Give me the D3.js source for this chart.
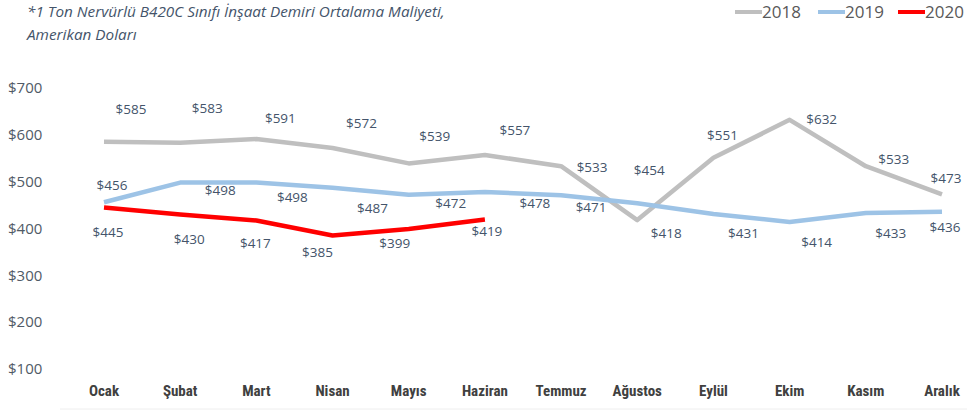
<!DOCTYPE html>
<html><head><meta charset="utf-8">
<script src="https://cdn.jsdelivr.net/npm/d3@7"></script>
<style>body{margin:0;background:#fff}svg{display:block}</style>
</head><body>
<svg id="c" width="967" height="411"></svg>
<script>
const months = ["Ocak","Şubat","Mart","Nisan","Mayıs","Haziran","Temmuz","Ağustos","Eylül","Ekim","Kasım","Aralık"];
const s2018 = [585,583,591,572,539,557,533,418,551,632,533,473];
const s2019 = [456,498,498,487,472,478,471,454,431,414,433,436];
const s2020 = [445,430,417,385,399,419];
const yTicks = [100,200,300,400,500,600,700];
const seriesNames = ["2018","2019","2020"];
const seriesColors = ["#BFBFBF","#9DC3E6","#FF0000"];
// label offsets relative to points (layout)
const off2018 = [[27,-33],[27,-35],[24,-21],[29,-25],[26,-27],[30,-25],[31,1],[29,13],[9,-23],[32,-1],[28,-7],[4,-16]];
const off2019 = [[8,-17],[40,8],[36,15],[40,21],[42,8],[50,11],[30,12],[12,-33],[30,19],[27,20],[25,20],[3,16]];
const off2020 = [[4,25],[9,25],[-1,23],[-15,17],[-14,14],[2,12]];

const svg = d3.select("#c");
const x = d3.scalePoint().domain(months).range([104,942]);
const y = d3.scaleLinear().domain([100,700]).range([369,88]);

// title
const t = svg.append("text").attr("font-family","'Open Sans',sans-serif")
  .attr("font-style","italic").attr("font-size",15.3).attr("fill","#44546A");
t.append("tspan").attr("x",27).attr("y",17).text("*1 Ton Nervürlü B420C Sınıfı İnşaat Demiri Ortalama Maliyeti,");
t.append("tspan").attr("x",27).attr("y",40).text("Amerikan Doları");

// y axis labels
svg.append("g").selectAll("text").data(yTicks).join("text")
  .attr("x",8).attr("y",d=>y(d)).attr("dy","0.35em")
  .attr("font-family","'Open Sans',sans-serif").attr("font-size",15).attr("fill","#505a66")
  .text(d=>"$"+d);

// x axis labels
svg.append("g").selectAll("text").data(months).join("text")
  .attr("x",d=>x(d)).attr("y",391).attr("dy","0.35em").attr("text-anchor","middle")
  .attr("font-family","'Liberation Sans Narrow','Roboto Condensed','Open Sans',sans-serif")
  .attr("font-weight","bold").attr("font-size",15).attr("fill","#404040")
  .text(d=>d);

svg.append("line").attr("x1",60).attr("x2",967).attr("y1",409).attr("y2",409).attr("stroke","#eeeeee");

const line = d3.line().x((d,i)=>x(months[i])).y(d=>y(d));
const data = [s2018,s2019,s2020];
const offs = [off2018,off2019,off2020];
data.forEach((s,k)=>{
  svg.append("path").datum(s).attr("d",line).attr("fill","none")
    .attr("stroke",seriesColors[k]).attr("stroke-width",4.5).attr("stroke-linejoin","round");
});
data.forEach((s,k)=>{
  svg.append("g").selectAll("text").data(s).join("text")
    .attr("x",(d,i)=>x(months[i])+offs[k][i][0]).attr("y",(d,i)=>y(d)+offs[k][i][1])
    .attr("dy","0.35em").attr("text-anchor","middle")
    .attr("font-family","'Open Sans',sans-serif").attr("font-size",13.5).attr("fill","#44546A")
    .text(d=>"$"+d);
});

// legend
const lx = [735,818,898];
seriesNames.forEach((n,k)=>{
  svg.append("line").attr("x1",lx[k]).attr("x2",lx[k]+27).attr("y1",12).attr("y2",12)
    .attr("stroke",seriesColors[k]).attr("stroke-width",4);
  svg.append("text").attr("x",lx[k]+27).attr("y",12).attr("dy","0.35em")
    .attr("font-family","'Open Sans',sans-serif").attr("font-size",17).attr("fill","#595959").text(n);
});
</script>
</body></html>
